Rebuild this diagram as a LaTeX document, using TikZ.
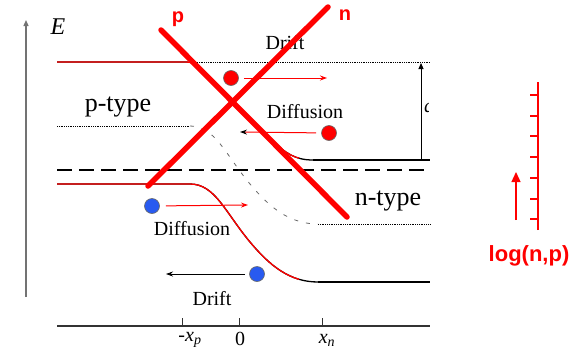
\documentclass[tikz,border=0pt]{standalone}
\usepackage{fontspec}
\setmainfont{Liberation Serif}
\newfontfamily\sansbold{Liberation Sans}
\usetikzlibrary{arrows.meta}
\definecolor{ballblue}{RGB}{40,90,240}

\begin{document}
\begin{tikzpicture}[x=1pt,y=-1pt,
    lbl/.style={font=\fontsize{20}{24}\selectfont},
    typelbl/.style={font=\fontsize{26}{30}\selectfont},
    pnlbl/.style={text=red,font=\sansbold\bfseries\fontsize{20}{24}\selectfont},
    ball/.style={circle,minimum size=15pt,inner sep=0pt,draw=black!60,line width=0.6pt},
    band/.style={line width=1.3pt},
    flat/.style={line width=2.3pt},
    cross/.style={red,line width=5.5pt,line cap=round},
    tip/.style={-{Stealth[length=7pt,width=5pt]}}]
    \useasboundingbox (0,0) rectangle (580,359);

    % Define axes
    \coordinate (yaxis0) at (26,297);
    \coordinate (yaxis1) at (26,20);
    \coordinate (xaxis0) at (57,326);
    \coordinate (xaxis1) at (430,326);
    \draw[black!55,line width=1.3pt,-{Triangle[length=6pt,width=5pt]}] (yaxis0) -- (yaxis1);
    \draw[black!80,line width=1.2pt] (xaxis0) -- (xaxis1);
    \foreach \x in {182,239,322}
        \draw[black!80,line width=0.9pt] (\x,318) -- (\x,326);
    \node[font=\fontsize{24}{28}\selectfont] (E) at (58,27) {\textit{E}};
    \node[lbl] (xp) at (190,340) {-\textit{x}\textsubscript{\textit{p}}};
    \node[lbl] (zero) at (240,339) {0};
    \node[lbl] (xn) at (327,340) {\textit{x}\textsubscript{\textit{n}}};

    % Band edges: black first, red part clipped on top
    \draw[band] (57,62) -- (186,62) .. controls (192,62) and (196,64) .. (200,68)
        -- (272,140) .. controls (285,153) and (295,160) .. (313,160);
    \draw[band] (57,184) -- (190,184) .. controls (215,184) and (225,212) .. (250,242)
        .. controls (270,266) and (290,282) .. (318,282);
    \begin{scope}
        \clip (0,0) rectangle (299,359);
        \draw[band,red] (57,62) -- (186,62) .. controls (192,62) and (196,64) .. (200,68)
            -- (272,140) .. controls (285,153) and (295,160) .. (313,160);
        \draw[band,red] (57,184) -- (190,184) .. controls (215,184) and (225,212) .. (250,242)
            .. controls (270,266) and (290,282) .. (318,282);
    \end{scope}
    \draw[flat] (313,160) -- (430,160);
    \draw[flat] (318,282) -- (430,282);
    \draw[densely dotted,line width=0.8pt] (197,62) -- (430,62);

    % Intrinsic level
    \draw[densely dotted,line width=0.8pt] (57,126) -- (190,126);
    \draw[black!60,line width=0.8pt,dash pattern=on 4pt off 8pt] (190,126)
        .. controls (215,126) and (225,154) .. (250,184)
        .. controls (270,208) and (290,224) .. (318,224);
    \draw[densely dotted,line width=0.8pt] (318,224) -- (430,224);

    % Fermi level
    \draw[line width=2.3pt,dash pattern=on 15pt off 7pt] (57,170) -- (430,170);

    % Built-in potential
    \coordinate (qvbot) at (421,160);
    \coordinate (qvtop) at (421,63);
    \draw[line width=0.9pt,-{Triangle[length=6pt,width=5pt]}] (qvbot) -- (qvtop);
    \begin{scope}
        \clip (423,95) rectangle (428.5,122);
        \node[lbl,anchor=west,inner sep=0pt] (qv) at (424,110) {\textit{q}};
    \end{scope}

    % Labels
    \node[typelbl] (ptype) at (118,107) {p-type};
    \node[typelbl] (ntype) at (388,201) {n-type};
    \node[lbl] (drift1) at (285,43) {Drift};
    \node[lbl] (diff1) at (305,112) {Diffusion};
    \node[lbl] (diff2) at (192,229) {Diffusion};
    \node[lbl] (drift2) at (212,299) {Drift};

    % Carriers
    \node[ball,fill=red] (hole1) at (231,78) {};
    \node[ball,fill=red] (hole2) at (329,133) {};
    \node[ball,fill=ballblue] (elec1) at (152,206) {};
    \node[ball,fill=ballblue] (elec2) at (257,274) {};
    \coordinate (hole1end) at (327,78);
    \coordinate (hole2end) at (240,132);
    \coordinate (elec1end) at (248,205);
    \coordinate (elec2end) at (166,274);
    \draw[red,line width=1pt,tip,shorten <=5pt] (hole1) -- (hole1end);
    \draw[red,line width=1pt,-{Stealth[length=7pt,width=5pt,black]},shorten <=5pt] (hole2) -- (hole2end);
    \draw[red,line width=1pt,tip,shorten <=6pt] (elec1) -- (elec1end);
    \draw[line width=0.8pt,tip,shorten <=4pt] (elec2) -- (elec2end);

    % Crossed out
    \coordinate (parmA) at (161,30);
    \coordinate (parmB) at (347,217);
    \coordinate (narmA) at (148,186);
    \coordinate (narmB) at (328,7);
    \draw[cross] (parmA) -- (parmB);
    \draw[cross] (narmA) -- (narmB);
    \node[pnlbl] (plbl) at (178,19) {p};
    \node[pnlbl] (nlbl) at (345,15) {n};

    % log(n,p) scale
    \coordinate (raxbot) at (538,230);
    \coordinate (raxtop) at (538,82);
    \draw[red,line width=2.5pt] (raxbot) -- (raxtop);
    \foreach \i in {0,...,6}
        \draw[red,line width=2pt] (530,95+20.7*\i) -- (538,95+20.7*\i);
    \coordinate (logbot) at (516,220);
    \coordinate (logtop) at (516,172);
    \draw[red,line width=1.3pt,-{Triangle[length=10pt,width=9pt]}] (logbot) -- (logtop);
    \node[text=red,font=\sansbold\bfseries\fontsize{22}{26}\selectfont] (loglbl) at (529,256) {log(n,p)};
\end{tikzpicture}
\end{document}
